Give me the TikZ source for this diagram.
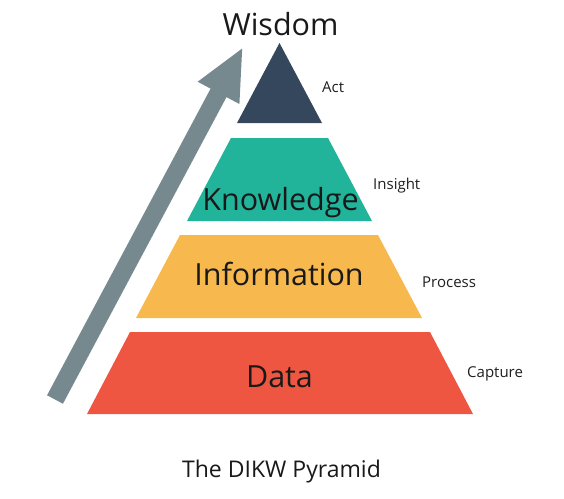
\documentclass[tikz,border=0pt]{standalone}
\usepackage{fontspec}
\setmainfont{Open Sans}
\usetikzlibrary{arrows.meta}

\definecolor{wisdomblue}{HTML}{34475C}
\definecolor{knowteal}{HTML}{22B39B}
\definecolor{infoyellow}{HTML}{F7B84E}
\definecolor{datared}{HTML}{EF5641}
\definecolor{arrowgray}{HTML}{76898F}

\begin{document}
\begin{tikzpicture}[x=1pt, y=-1pt,
        level/.style={font=\fontsize{30.5}{36}\selectfont, anchor=base, inner sep=0pt, text=black!90},
        verb/.style={font=\fontsize{15}{18}\selectfont, anchor=base west, inner sep=0pt, text=black!88}]
        \useasboundingbox (0,0) rectangle (564,498);
        % rising arrow
        \coordinate (foot) at (55,399.5);
        \coordinate (tip) at (243,47);
        \draw[arrowgray, line width=18pt, -{Triangle[length=52pt, width=43pt]}] (foot) -- (tip);
        % layers
        \fill[wisdomblue] (279.5,43) -- (322,123) -- (237,123) -- cycle;
        \fill[knowteal]   (231,138) -- (328,138) -- (372,221) -- (187,221) -- cycle;
        \fill[infoyellow] (180,235) -- (378,235) -- (422,318) -- (136,318) -- cycle;
        \fill[datared]    (130,332) -- (430,332) -- (473,414) -- (87,414) -- cycle;
        \node[level] (wisdom) at (280.5,35)  {Wisdom};
        \node[level] (knowledge) at (280.5,210) {Knowledge};
        \node[level] (information) at (279,285) {Information};
        \node[level] (data) at (279.5,387) {Data};
        \node[verb] (act) at (322,92) {Act};
        \node[verb] (insight) at (373,189) {Insight};
        \node[verb] (process) at (422,287) {Process};
        \node[verb] (capture) at (467,377) {Capture};
        \node[level, font=\fontsize{23}{28}\selectfont] (caption) at (281.5,477) {The DIKW Pyramid};
    \end{tikzpicture}
\end{document}
